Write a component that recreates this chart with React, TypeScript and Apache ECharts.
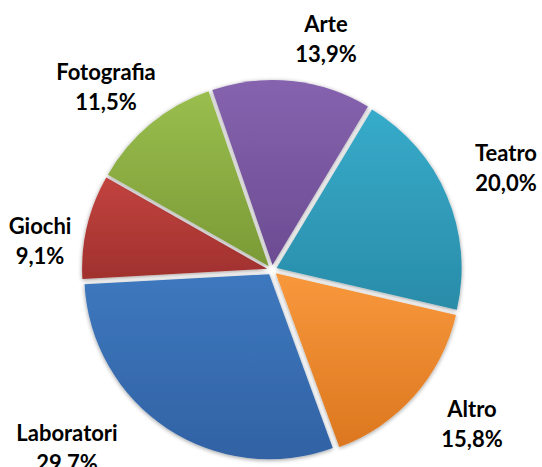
import React, { useEffect, useRef } from "react";
import * as echarts from "echarts";

// Data (clockwise from top-left)
const categories = ["Arte", "Teatro", "Altro", "Laboratori", "Giochi", "Fotografia"];
const values = [13.9, 20.0, 15.8, 29.7, 9.1, 11.5];
const percentLabels = ["13,9%", "20,0%", "15,8%", "29.7%", "9,1%", "11,5%"];

// Styles
const topColors = ["#8663AE", "#37ABCA", "#F8983C", "#3E78BE", "#C2433F", "#9ABE4E"];
const bottomColors = ["#6C4C93", "#298CA9", "#DC771F", "#3162A4", "#A0312E", "#7A9A36"];
// Label centres (layout, px)
const labelPos: [number, number][] = [
  [326, 38],
  [506, 167],
  [472, 423],
  [67, 447],
  [40, 240],
  [106, 86],
];

export default function App() {
  const ref = useRef<HTMLDivElement>(null);
  useEffect(() => {
    if (!ref.current) return;
    const chart = echarts.init(ref.current, undefined, { renderer: "svg" });
    const sliceData = categories.map((name, i) => ({
      name,
      value: values[i],
      selected: true,
      itemStyle: {
        color: {
          type: "linear",
          x: 0,
          y: 0,
          x2: 0,
          y2: 1,
          colorStops: [
            { offset: 0, color: topColors[i] },
            { offset: 1, color: bottomColors[i] },
          ],
        },
      },
    }));
    const labelData = categories.map((name, i) => ({ name, value: values[i] }));
    const common = {
      type: "pie",
      center: [272, 270],
      radius: [0, 185],
      startAngle: 109,
      clockwise: true,
      avoidLabelOverlap: false,
      emphasis: { disabled: true },
    };
    chart.setOption({
      animation: false,
      backgroundColor: "#ffffff",
      series: [
        {
          ...common,
          selectedMode: "multiple",
          selectedOffset: 5,
          data: sliceData,
          itemStyle: {
            borderWidth: 0,
            shadowBlur: 4,
            shadowColor: "rgba(0,0,0,0.4)",
            shadowOffsetX: 0,
            shadowOffsetY: 1,
          },
          select: { itemStyle: { borderWidth: 0 } },
          label: { show: false },
          labelLine: { show: false },
        },
        {
          ...common,
          silent: true,
          selectedMode: false,
          data: labelData,
          itemStyle: { color: "rgba(0,0,0,0)", borderWidth: 0 },
          label: {
            show: true,
            position: "outside",
            formatter: (p: any) => `${p.name}\n${percentLabels[p.dataIndex]}`,
            fontFamily: "Lato, 'Open Sans', sans-serif",
            fontWeight: "bold",
            fontSize: 22,
            lineHeight: 30,
            color: "#000000",
            align: "center",
          },
          labelLine: { show: false },
          labelLayout: (p: any) => ({
            x: labelPos[p.dataIndex][0],
            y: labelPos[p.dataIndex][1],
            align: "center",
            verticalAlign: "middle",
          }),
        },
      ],
    });
    return () => chart.dispose();
  }, []);
  return (
    <div
      ref={ref}
      style={{ position: "fixed", left: 0, top: 0, width: 542, height: 467 }}
    />
  );
}
